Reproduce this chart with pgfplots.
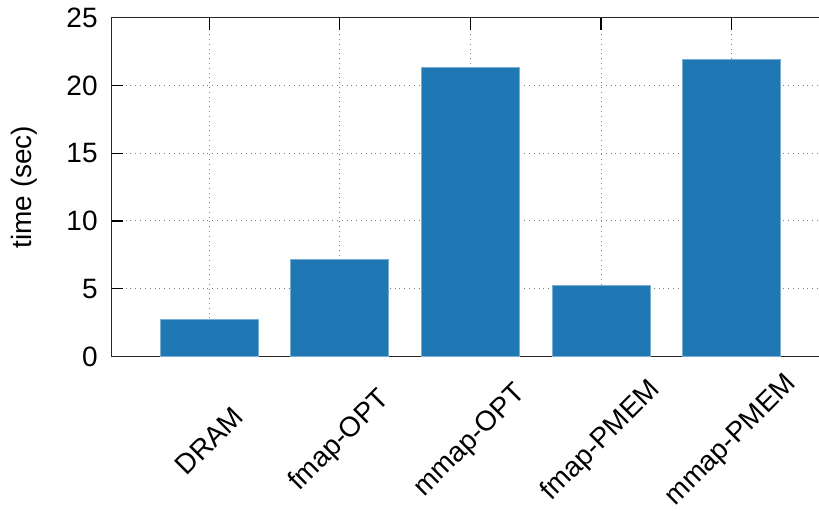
\documentclass[border=0pt]{standalone}
\usepackage{fontspec}
\setmainfont{Liberation Sans}
\usepackage{pgfplots}
\pgfplotsset{compat=1.18}
\usetikzlibrary{calc}
\definecolor{barblue}{HTML}{1F77B4}
\begin{document}
\begin{tikzpicture}
\begin{axis}[
  name=ax,
  scale only axis,
  width=353.85pt, height=169.4pt,
  xmin=-0.75, xmax=4.669,
  ymin=0, ymax=25,
  ytick={0,5,10,15,20,25},
  xtick={0,1,2,3,4},
  xticklabels={DRAM,fmap-OPT,mmap-OPT,fmap-PMEM,mmap-PMEM},
  axis x line*=box, axis y line*=left,
  axis line style={-, line width=0.6pt, black!85},
  tick align=inside, major tick length=6pt,
  tick style={black, line width=0.6pt},
  xtick pos=both, ytick pos=left,
  grid=major, major grid style={dotted, gray, line width=0.5pt},
  tick label style={font=\fontsize{14}{17}\selectfont},
  /pgf/number format/assume math mode=true,
  yticklabel style={anchor=east, xshift=-3.3pt},
  xticklabel style={yshift=-42.25pt, rotate=45, anchor=center},
  ylabel={time (sec)},
  every axis y label/.style={at={(rel axis cs:0,0.5)}, xshift=-43.6pt, rotate=90, anchor=center, font=\fontsize{14}{17}\selectfont},
]
\addplot[ybar, bar width=0.75, fill=barblue, draw=barblue!60!white, line width=0.5pt]
  coordinates {(0,2.73) (1,7.16) (2,21.33) (3,5.21) (4,21.92)};
\end{axis}
\pgfresetboundingbox
\path ($(ax.south west)+(-55.65pt,-76.75pt)$) rectangle ($(ax.north east)+(0pt,8.85pt)$);
\end{tikzpicture}
\end{document}
